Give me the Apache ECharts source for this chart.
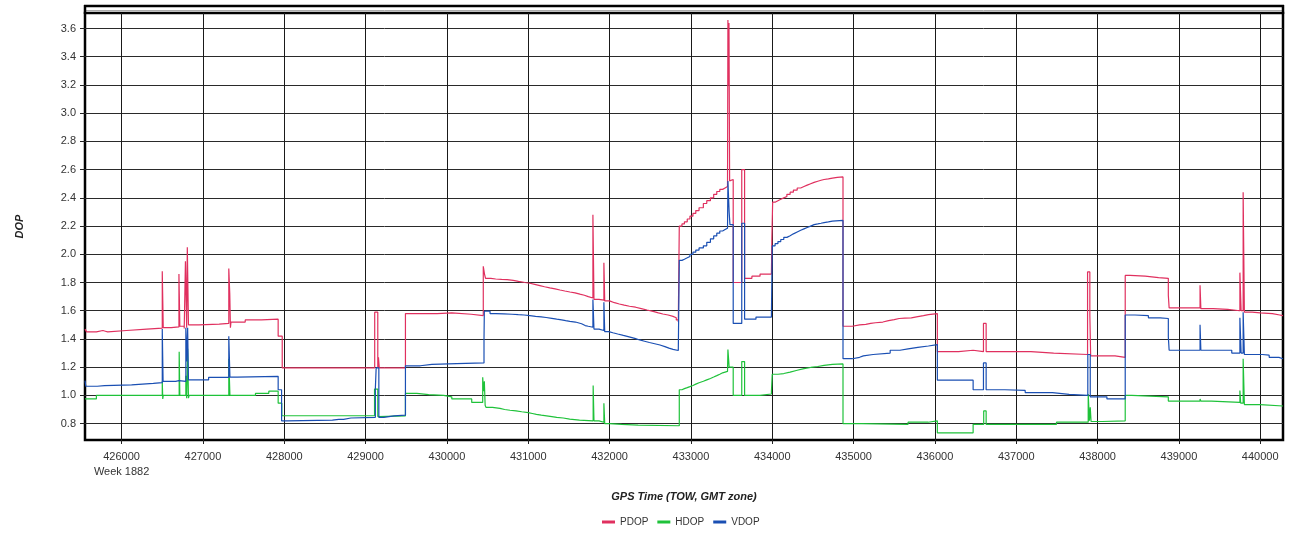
<!DOCTYPE html>
<html>
<head>
<meta charset="utf-8">
<script src="https://cdn.jsdelivr.net/npm/echarts@6/dist/echarts.min.js"></script>
<style>
html,body{margin:0;padding:0;background:#fff;}
#c{width:1289px;height:533px;}
</style>
</head>
<body>
<div id="c"></div>
<script>
const xTicks = [426000,427000,428000,429000,430000,431000,432000,433000,434000,435000,436000,437000,438000,439000,440000];
const yTicks = [0.8,1.0,1.2,1.4,1.6,1.8,2.0,2.2,2.4,2.6,2.8,3.0,3.2,3.4,3.6];
const weekLabel = 'Week 1882';
const seriesNames = ['PDOP','HDOP','VDOP'];

const pdop = [
[425550,1.47],[425570,1.45],[425690,1.46],[425770,1.455],[425800,1.45],[425830,1.46],[426060,1.47],[426310,1.477],
[426500,1.88],[426512,1.48],[426610,1.485],[426705,1.86],[426716,1.49],[426770,1.475],[426785,1.95],[426800,1.48],
[426808,2.05],[426822,1.50],[426950,1.505],[427200,1.51],[427318,1.90],[427330,1.72],[427338,1.48],[427345,1.52],
[427520,1.535],[427720,1.54],[427925,1.42],[427975,1.195],[429112,1.59],[429150,1.195],[429158,1.27],[429168,1.195],
[429490,1.58],[429880,1.585],[430060,1.575],[430300,1.566],[430447,1.915],[430462,1.86],[430475,1.83],[430540,1.825],
[430600,1.822],[430672,1.82],[430740,1.815],[430815,1.808],[430880,1.80],[430960,1.795],[431020,1.787],[431080,1.778],
[431143,1.77],[431200,1.762],[431265,1.755],[431330,1.747],[431390,1.74],[431450,1.733],[431512,1.727],[431575,1.718],
[431635,1.71],[431690,1.70],[431738,1.69],[431795,2.28],[431808,1.68],[431870,1.675],[431930,1.94],[431940,1.67],
[432000,1.657],[432060,1.648],[432120,1.64],[432180,1.632],[432245,1.625],[432320,1.615],[432390,1.605],[432460,1.595],
[432535,1.585],[432600,1.577],[432655,1.57],[432720,1.56],[432780,1.55],[432820,1.535],[432845,1.52],[432857,2.2],
[432890,2.215],[432920,2.23],[432955,2.25],[432988,2.27],[433025,2.29],[433060,2.31],[433100,2.33],[433153,2.36],
[433195,2.38],[433240,2.40],[433280,2.425],[433318,2.445],[433355,2.46],[433390,2.47],[433420,2.48],[433450,2.49],
[433455,3.66],[433462,3.2],[433468,3.64],[433476,2.52],[433480,2.53],[433520,1.80],[433625,2.6],[433660,1.83],
[433750,1.845],[433850,1.86],[433990,1.87],[433995,2.1],[434005,2.37],[434040,2.38],[434070,2.39],[434105,2.40],
[434142,2.41],[434180,2.425],[434220,2.44],[434260,2.455],[434307,2.47],[434350,2.48],[434390,2.49],[434430,2.50],
[434472,2.51],[434515,2.518],[434560,2.525],[434600,2.53],[434637,2.535],[434690,2.54],[434740,2.545],[434800,2.548],
[434870,1.49],[434984,1.50],[435074,1.504],[435150,1.51],[435210,1.515],[435270,1.52],[435360,1.53],[435430,1.537],
[435500,1.545],[435560,1.548],[435630,1.55],[435710,1.558],[435790,1.565],[435860,1.572],[435920,1.58],[436030,1.31],
[436290,1.32],[436470,1.31],[436597,1.51],[436630,1.31],[437180,1.30],[437460,1.29],[437877,1.875],[437905,1.57],
[437915,1.28],[438215,1.27],[438340,1.85],[438400,1.845],[438585,1.835],[438750,1.83],[438755,1.845],[438765,1.83],
[438870,1.71],[438880,1.62],[439260,1.78],[439270,1.615],[439420,1.61],[439600,1.60],[439750,1.87],[439765,1.60],
[439790,2.44],[439805,1.59],[439900,1.585],[440000,1.58],[440150,1.57],[440240,1.565],[440280,1.565]
];

const hdop = [
[425550,0.975],[425690,1.0],[426500,1.10],[426506,0.975],[426512,1.0],[426708,1.31],[426716,1.0],[426790,1.14],
[426800,0.98],[426812,1.33],[426822,0.98],[426830,1.0],[427318,1.26],[427332,1.0],[427646,1.015],[427810,1.03],
[427925,0.945],[427970,0.856],[429110,1.045],[429150,0.85],[429163,0.855],[429490,1.014],[429630,1.005],[429775,1.0],
[429960,0.99],[430060,0.975],[430305,0.95],[430440,1.128],[430450,1.03],[430460,1.1],[430470,0.93],[430480,0.915],
[430560,0.908],[430652,0.90],[430710,0.895],[430775,0.89],[430850,0.884],[430920,0.878],[431000,0.872],[431050,0.866],
[431100,0.86],[431160,0.855],[431225,0.85],[431290,0.845],[431350,0.84],[431430,0.832],[431510,0.825],[431630,0.82],
[431798,1.07],[431808,0.82],[431870,0.81],[431930,0.945],[431940,0.80],[432000,0.795],[432150,0.79],[432352,0.785],
[432857,1.04],[432890,1.048],[432920,1.055],[432955,1.062],[432988,1.07],[433025,1.08],[433060,1.09],[433100,1.10],
[433153,1.11],[433195,1.12],[433240,1.13],[433280,1.14],[433318,1.15],[433355,1.16],[433390,1.165],[433420,1.17],
[433450,1.175],[433455,1.325],[433470,1.2],[433520,1.0],[433625,1.24],[433660,1.0],[433850,1.01],[433990,1.03],
[434000,1.15],[434070,1.155],[434142,1.165],[434220,1.178],[434307,1.19],[434390,1.198],[434472,1.205],[434560,1.213],
[434637,1.22],[434740,1.223],[434870,0.80],[435100,0.795],[435670,0.81],[435918,0.82],[436030,0.735],[436470,0.795],
[436600,0.89],[436630,0.795],[437495,0.81],[437885,1.01],[437900,0.82],[437910,0.915],[437920,0.815],[438060,0.82],
[438340,1.0],[438420,0.99],[438870,0.96],[439260,0.975],[439270,0.96],[439400,0.95],[439750,1.035],[439760,0.945],
[439790,1.26],[439805,0.935],[440000,0.925],[440280,0.925]
];

const vdop = [
[425550,1.105],[425560,1.065],[425700,1.07],[425790,1.075],[426123,1.085],[426390,1.09],[426500,1.47],[426510,1.10],
[426665,1.105],[426705,1.10],[426790,1.48],[426800,1.24],[426812,1.48],[426822,1.11],[427070,1.128],[427318,1.42],
[427332,1.13],[427420,1.135],[427925,1.04],[427967,0.82],[428040,0.825],[428592,0.83],[428670,0.84],[428690,0.83],
[428730,0.84],[428820,0.845],[429120,1.05],[429130,1.195],[429163,0.845],[429225,0.855],[429350,0.86],[429490,1.21],
[429673,1.22],[429815,1.225],[430120,1.23],[430456,1.4],[430460,1.597],[430530,1.58],[430600,1.578],[430700,1.575],
[430800,1.572],[430877,1.57],[430950,1.565],[431020,1.56],[431090,1.556],[431160,1.552],[431220,1.546],[431290,1.54],
[431350,1.535],[431410,1.53],[431460,1.525],[431512,1.52],[431580,1.508],[431656,1.495],[431700,1.49],[431738,1.483],
[431795,1.68],[431808,1.47],[431870,1.46],[431930,1.66],[431940,1.452],[431990,1.444],[432040,1.435],[432100,1.425],
[432169,1.415],[432240,1.404],[432310,1.393],[432370,1.384],[432430,1.375],[432490,1.366],[432555,1.357],[432620,1.346],
[432680,1.335],[432730,1.326],[432780,1.318],[432845,1.305],[432857,1.957],[432890,1.965],[432920,1.975],[432955,1.985],
[432988,2.0],[433025,2.015],[433060,2.03],[433100,2.045],[433153,2.06],[433195,2.085],[433240,2.11],[433280,2.13],
[433318,2.15],[433355,2.165],[433390,2.175],[433420,2.185],[433450,2.195],[433455,2.52],[433470,2.3],[433480,2.21],
[433520,1.51],[433625,2.22],[433660,1.54],[433800,1.555],[433990,1.57],[434000,2.06],[434035,2.075],[434070,2.09],
[434105,2.105],[434142,2.12],[434180,2.132],[434220,2.145],[434260,2.158],[434307,2.17],[434350,2.18],[434390,2.19],
[434430,2.20],[434472,2.21],[434515,2.215],[434560,2.22],[434600,2.225],[434637,2.23],[434690,2.235],[434740,2.24],
[434870,1.26],[434984,1.27],[435074,1.28],[435120,1.29],[435240,1.30],[435450,1.32],[435570,1.33],[435670,1.34],
[435790,1.35],[435920,1.36],[436030,1.108],[436470,1.04],[436597,1.23],[436630,1.04],[436860,1.035],[437110,1.02],
[437445,1.007],[437650,1.0],[437880,1.29],[437910,0.99],[438115,0.975],[438340,1.57],[438460,1.565],[438625,1.55],
[438770,1.545],[438870,1.415],[438880,1.32],[439260,1.50],[439270,1.32],[439650,1.30],[439750,1.55],[439765,1.30],
[439790,1.59],[439805,1.29],[440025,1.285],[440110,1.27],[440230,1.26],[440280,1.26]
];

const colors = ['#e0305f','#1fc23a','#1a4fb3'];
const chart = echarts.init(document.getElementById('c'), null, {renderer:'canvas'});
const G = {left:85, right:6, top:13, bottom:93};
chart.setOption({
  animation:false,
  color:colors,
  grid:{left:G.left, right:G.right, top:G.top, bottom:G.bottom, show:true, borderColor:'#000', borderWidth:2.5, backgroundColor:'#fff'},
  legend:{
    data:seriesNames, bottom:1, left:597, icon:'rect', itemWidth:13, itemHeight:3, itemGap:9,
    textStyle:{fontFamily:'Liberation Sans, Arial', fontSize:10, color:'#333'}
  },
  xAxis:{
    type:'value', min:425550, max:440280,
    name:'GPS Time (TOW, GMT zone)', nameLocation:'middle', nameGap:51,
    nameTextStyle:{fontFamily:'Liberation Sans, Arial', fontSize:11, fontWeight:'bold', fontStyle:'italic', color:'#222'},
    axisLine:{show:false},
    axisTick:{show:true, length:4, customValues:xTicks, lineStyle:{color:'#222'}},
    axisLabel:{customValues:xTicks, fontFamily:'Liberation Sans, Arial', fontSize:11, color:'#333', margin:9, lineHeight:15,
      formatter:v => v === xTicks[0] ? v + '\n' + weekLabel : String(v)},
    splitLine:{show:true, lineStyle:{color:'#1a1a1a', width:1}}
  },
  yAxis:{
    type:'value', min:0.684, max:3.71,
    name:'DOP', nameLocation:'middle', nameGap:60, nameRotate:90,
    nameTextStyle:{fontFamily:'Liberation Sans, Arial', fontSize:11, fontWeight:'bold', fontStyle:'italic', color:'#222'},
    axisLine:{show:false},
    axisTick:{show:true, length:5, customValues:yTicks, lineStyle:{color:'#222'}},
    axisLabel:{customValues:yTicks, fontFamily:'Liberation Sans, Arial', fontSize:11, color:'#333', margin:9,
      formatter:v => Number(v).toFixed(1)},
    splitLine:{show:true, lineStyle:{color:'#2a2a2a', width:1}}
  },
  graphic:[
    {type:'line', shape:{x1:84, y1:6, x2:1284, y2:6}, style:{stroke:'#000', lineWidth:2.5}, z:100},
    {type:'line', shape:{x1:85, y1:10.5, x2:1283, y2:10.5}, style:{stroke:'#aaa', lineWidth:1}, z:100},
    {type:'line', shape:{x1:85, y1:5, x2:85, y2:14}, style:{stroke:'#000', lineWidth:2.5}, z:100},
    {type:'line', shape:{x1:1283, y1:5, x2:1283, y2:14}, style:{stroke:'#000', lineWidth:2.5}, z:100}
  ],
  series:[
    {name:seriesNames[0], type:'line', step:'end', symbol:'none', data:pdop, lineStyle:{width:1.2}, z:3},
    {name:seriesNames[1], type:'line', step:'end', symbol:'none', data:hdop, lineStyle:{width:1.2}, z:4},
    {name:seriesNames[2], type:'line', step:'end', symbol:'none', data:vdop, lineStyle:{width:1.2}, z:5}
  ]
});
</script>
</body>
</html>
